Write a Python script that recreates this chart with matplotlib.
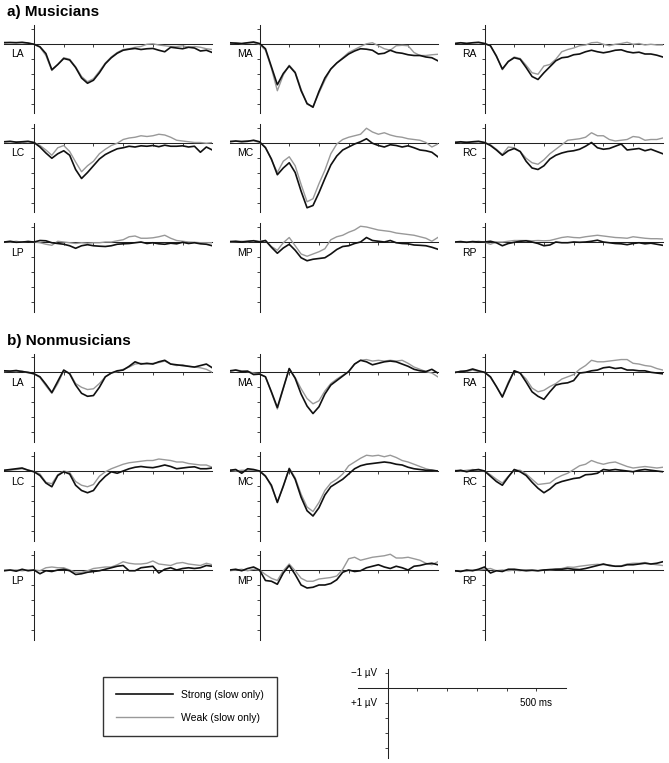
"""
plot.py
-------
ERP grand averages (strong vs weak, slow only) for musicians and
nonmusicians at nine scalp sites, negative plotted up.
"""

import matplotlib
matplotlib.use("Agg")
import matplotlib.pyplot as plt
from matplotlib.lines import Line2D

plt.rcParams["font.family"] = ["Liberation Sans", "DejaVu Sans"]

# ── Data (µV, sampled every 20 ms from -100 to 600 ms) ───────────────────────
TIMES_MS = list(range(-100, 601, 20))
SITES = ["LA", "MA", "RA", "LC", "MC", "RC", "LP", "MP", "RP"]

# a) Musicians
MUS_LA_STRONG = [-0.05, -0.07, -0.05, -0.08, -0.03, 0.05, 0.22, 0.67, 1.75, 1.40, 1.00, 1.10, 1.60, 2.30, 2.65, 2.45, 1.95, 1.35,
                 0.95, 0.65, 0.45, 0.38, 0.33, 0.40, 0.35, 0.33, 0.45, 0.55, 0.25, 0.30, 0.35, 0.25, 0.30, 0.50, 0.45, 0.60]
MUS_LA_WEAK = [-0.08, -0.05, -0.07, -0.05, -0.03, 0.05, 0.25, 0.80, 1.80, 1.40, 0.95, 1.05, 1.55, 2.20, 2.55, 2.35, 1.85, 1.30,
               0.90, 0.60, 0.40, 0.35, 0.25, 0.20, 0.05, 0.02, 0.10, 0.15, 0.20, 0.20, 0.15, 0.25, 0.20, 0.25, 0.35, 0.40]
MUS_MA_STRONG = [-0.05, -0.02, 0.00, -0.05, -0.10, 0.00, 0.35, 1.55, 2.75, 2.00, 1.50, 1.95, 3.15, 4.00, 4.25, 3.20, 2.30, 1.70,
                 1.30, 1.00, 0.70, 0.50, 0.35, 0.38, 0.45, 0.70, 0.65, 0.45, 0.60, 0.65, 0.75, 0.80, 0.80, 0.90, 0.95, 1.15]
MUS_MA_WEAK = [0.00, -0.05, 0.02, -0.03, -0.05, 0.05, 0.45, 1.65, 3.15, 2.10, 1.45, 1.90, 3.05, 4.05, 4.20, 3.30, 2.45, 1.70,
               1.30, 0.95, 0.60, 0.40, 0.20, 0.02, -0.05, 0.15, 0.35, 0.45, 0.15, 0.12, 0.15, 0.60, 0.80, 0.80, 0.75, 0.72]
MUS_RA_STRONG = [0.00, -0.05, 0.00, -0.05, -0.08, 0.00, 0.15, 0.85, 1.70, 1.20, 0.95, 1.05, 1.60, 2.20, 2.40, 1.95, 1.55, 1.15,
                 0.95, 0.90, 0.75, 0.70, 0.55, 0.45, 0.55, 0.62, 0.55, 0.45, 0.42, 0.55, 0.62, 0.58, 0.70, 0.70, 0.78, 0.90]
MUS_RA_WEAK = [0.00, -0.05, -0.02, -0.05, -0.05, 0.00, 0.15, 0.80, 1.75, 1.20, 0.90, 1.00, 1.45, 1.95, 2.05, 1.50, 1.40, 1.05,
               0.55, 0.40, 0.30, 0.15, 0.10, -0.05, -0.08, 0.05, 0.15, 0.05, 0.00, -0.08, 0.05, 0.00, 0.10, 0.05, 0.10, 0.10]
MUS_LC_STRONG = [-0.05, -0.08, -0.02, -0.05, -0.08, 0.00, 0.30, 0.70, 1.05, 0.75, 0.55, 0.85, 1.80, 2.40, 2.00, 1.55, 1.10, 0.80,
                 0.60, 0.42, 0.35, 0.25, 0.30, 0.22, 0.25, 0.20, 0.28, 0.18, 0.25, 0.25, 0.22, 0.30, 0.25, 0.65, 0.30, 0.50]
MUS_LC_WEAK = [-0.05, -0.05, -0.05, 0.00, -0.05, 0.00, 0.20, 0.50, 0.85, 0.35, 0.20, 0.60, 1.30, 1.95, 1.55, 1.25, 0.75, 0.45,
               0.20, 0.05, -0.20, -0.30, -0.35, -0.45, -0.40, -0.45, -0.55, -0.50, -0.35, -0.15, -0.10, -0.05, 0.00, 0.00, 0.05, 0.00]
MUS_MC_STRONG = [-0.05, -0.10, -0.05, -0.08, -0.15, -0.05, 0.35, 1.10, 2.15, 1.70, 1.35, 2.00, 3.25, 4.35, 4.20, 3.35, 2.40, 1.50,
                 0.90, 0.50, 0.30, 0.10, -0.05, -0.25, 0.05, 0.20, 0.30, 0.15, 0.20, 0.30, 0.22, 0.35, 0.50, 0.55, 0.65, 0.95]
MUS_MC_WEAK = [-0.10, -0.08, -0.10, -0.12, -0.12, 0.00, 0.30, 1.15, 2.00, 1.25, 0.95, 1.55, 2.80, 3.95, 3.75, 2.75, 1.85, 0.75,
               0.10, -0.20, -0.35, -0.45, -0.55, -0.95, -0.70, -0.55, -0.65, -0.50, -0.40, -0.35, -0.25, -0.20, -0.15, 0.00, 0.30, 0.10]
MUS_LP_STRONG = [0.00, -0.05, 0.02, 0.00, -0.03, 0.00, -0.10, -0.08, 0.05, 0.10, 0.15, 0.25, 0.42, 0.25, 0.18, 0.25, 0.28, 0.30,
                 0.25, 0.15, 0.12, 0.10, 0.05, 0.00, 0.10, 0.05, 0.12, 0.15, 0.08, 0.12, 0.02, 0.10, 0.05, 0.12, 0.15, 0.25]
MUS_LP_WEAK = [-0.02, 0.00, -0.05, 0.02, -0.05, 0.00, 0.05, 0.15, 0.22, -0.05, 0.00, 0.05, 0.10, 0.05, 0.08, 0.05, 0.05, 0.00,
               0.00, -0.08, -0.15, -0.35, -0.40, -0.25, -0.25, -0.28, -0.35, -0.45, -0.25, -0.10, -0.05, 0.00, 0.02, 0.05, 0.05, 0.05]
MUS_MP_STRONG = [-0.03, -0.05, 0.00, -0.05, -0.08, 0.00, -0.10, 0.35, 0.75, 0.40, 0.15, 0.55, 1.05, 1.25, 1.15, 1.10, 1.05, 0.80,
                 0.50, 0.30, 0.25, 0.10, 0.00, -0.30, -0.10, -0.05, 0.00, -0.10, 0.05, 0.10, 0.12, 0.20, 0.22, 0.25, 0.35, 0.48]
MUS_MP_WEAK = [0.00, -0.03, -0.05, -0.02, -0.10, -0.05, -0.10, 0.30, 0.55, 0.05, -0.30, 0.25, 0.80, 0.95, 0.80, 0.65, 0.45, -0.15,
               -0.35, -0.45, -0.65, -0.80, -1.05, -1.00, -0.90, -0.80, -0.75, -0.70, -0.60, -0.55, -0.50, -0.45, -0.35, -0.25, -0.05, -0.30]
MUS_RC_STRONG = [0.00, -0.05, 0.00, -0.05, -0.08, 0.00, 0.20, 0.50, 0.85, 0.55, 0.40, 0.60, 1.25, 1.70, 1.80, 1.55, 1.10, 0.85,
                 0.70, 0.60, 0.55, 0.45, 0.25, 0.00, 0.35, 0.45, 0.40, 0.25, 0.10, 0.50, 0.45, 0.40, 0.55, 0.45, 0.60, 0.75]
MUS_RC_WEAK = [-0.05, 0.00, -0.05, -0.02, -0.05, 0.00, 0.15, 0.45, 0.80, 0.30, 0.35, 0.60, 1.05, 1.35, 1.45, 1.15, 0.75, 0.45,
               0.15, -0.15, -0.20, -0.25, -0.35, -0.65, -0.45, -0.45, -0.20, -0.10, -0.15, -0.20, -0.40, -0.35, -0.15, -0.20, -0.20, -0.30]
MUS_RP_STRONG = [0.00, -0.03, 0.02, -0.03, 0.00, 0.00, -0.05, 0.05, 0.25, 0.10, 0.02, -0.05, -0.08, 0.00, 0.10, 0.25, 0.20, 0.00,
                 0.05, 0.05, 0.00, 0.02, 0.00, -0.05, -0.12, 0.00, 0.05, 0.10, 0.12, 0.18, 0.10, 0.05, 0.12, 0.08, 0.15, 0.22]
MUS_RP_WEAK = [0.02, -0.02, 0.00, 0.00, -0.05, 0.02, 0.15, 0.00, 0.00, -0.05, -0.10, -0.10, -0.10, -0.08, -0.10, -0.08, -0.10, -0.20,
               -0.30, -0.35, -0.30, -0.28, -0.35, -0.40, -0.45, -0.40, -0.35, -0.30, -0.28, -0.25, -0.35, -0.30, -0.25, -0.22, -0.22, -0.20]

# b) Nonmusicians
NON_LA_STRONG = [-0.10, -0.08, -0.12, -0.05, 0.00, 0.10, 0.30, 0.80, 1.35, 0.60, -0.15, 0.10, 0.85, 1.40, 1.60, 1.55, 1.00, 0.30,
                 0.05, -0.10, -0.15, -0.40, -0.70, -0.55, -0.60, -0.55, -0.70, -0.80, -0.55, -0.50, -0.45, -0.40, -0.35, -0.45, -0.55, -0.30]
NON_LA_WEAK = [-0.05, -0.08, -0.05, -0.08, 0.05, 0.10, 0.35, 0.90, 1.40, 0.75, -0.10, 0.05, 0.75, 1.00, 1.15, 1.10, 0.75, 0.30,
               0.05, -0.05, -0.20, -0.35, -0.55, -0.60, -0.55, -0.60, -0.65, -0.75, -0.55, -0.45, -0.50, -0.40, -0.35, -0.30, -0.20, 0.00]
NON_MA_STRONG = [-0.10, -0.15, -0.05, -0.08, 0.15, 0.12, 0.30, 1.30, 2.35, 1.05, -0.25, 0.40, 1.45, 2.25, 2.75, 2.30, 1.45, 0.85,
                 0.55, 0.25, -0.05, -0.55, -0.80, -0.70, -0.50, -0.60, -0.70, -0.75, -0.70, -0.55, -0.40, -0.20, -0.10, -0.05, -0.20, 0.05]
NON_MA_WEAK = [-0.05, -0.15, -0.10, -0.05, 0.05, 0.10, 0.30, 1.35, 2.45, 1.10, -0.25, 0.35, 1.10, 1.75, 2.10, 1.90, 1.25, 0.75,
               0.45, 0.20, -0.05, -0.55, -0.80, -0.85, -0.75, -0.80, -0.75, -0.80, -0.75, -0.80, -0.60, -0.35, -0.20, -0.05, 0.05, 0.30]
NON_RA_STRONG = [0.00, -0.05, -0.10, -0.22, -0.10, 0.00, 0.30, 0.95, 1.65, 0.75, -0.10, 0.05, 0.65, 1.30, 1.60, 1.80, 1.30, 0.85,
                 0.75, 0.70, 0.55, 0.05, 0.00, -0.10, -0.15, -0.30, -0.35, -0.25, -0.30, -0.15, -0.15, -0.10, -0.10, 0.00, 0.05, 0.10]
NON_RA_WEAK = [0.05, -0.10, -0.05, -0.15, -0.05, 0.00, 0.35, 0.95, 1.60, 0.65, -0.10, 0.05, 0.45, 1.05, 1.30, 1.20, 0.95, 0.75,
               0.45, 0.30, 0.15, -0.20, -0.45, -0.80, -0.70, -0.70, -0.75, -0.80, -0.85, -0.85, -0.60, -0.55, -0.45, -0.40, -0.25, -0.15]
NON_LC_STRONG = [-0.05, -0.10, -0.15, -0.20, -0.05, 0.05, 0.30, 0.80, 1.05, 0.30, 0.05, 0.20, 0.95, 1.30, 1.45, 1.30, 0.75, 0.35,
                 0.05, 0.15, 0.00, -0.15, -0.25, -0.30, -0.25, -0.22, -0.30, -0.40, -0.30, -0.15, -0.20, -0.25, -0.28, -0.15, -0.15, -0.20]
NON_LC_WEAK = [-0.05, -0.05, -0.10, -0.15, -0.08, 0.05, 0.20, 0.75, 0.85, 0.25, 0.00, 0.10, 0.70, 0.95, 1.05, 0.90, 0.35, 0.05,
               -0.15, -0.30, -0.45, -0.55, -0.60, -0.65, -0.70, -0.70, -0.80, -0.75, -0.70, -0.60, -0.60, -0.50, -0.45, -0.40, -0.40, -0.25]
NON_MC_STRONG = [-0.05, -0.10, 0.15, -0.15, -0.10, 0.00, 0.35, 0.95, 2.10, 1.00, -0.15, 0.55, 1.75, 2.65, 3.00, 2.45, 1.60, 1.05,
                 0.80, 0.55, 0.20, -0.15, -0.35, -0.45, -0.50, -0.55, -0.60, -0.55, -0.45, -0.40, -0.25, -0.15, -0.10, -0.05, -0.05, 0.00]
NON_MC_WEAK = [-0.05, 0.00, -0.05, -0.05, -0.05, 0.00, 0.30, 1.05, 2.05, 1.05, -0.20, 0.45, 1.55, 2.40, 2.70, 2.10, 1.30, 0.80,
               0.55, 0.20, -0.35, -0.60, -0.85, -1.05, -1.00, -1.05, -0.95, -1.05, -0.90, -0.70, -0.60, -0.45, -0.30, -0.15, -0.05, 0.00]
NON_RC_STRONG = [0.00, -0.05, 0.05, -0.05, -0.10, 0.00, 0.35, 0.70, 0.95, 0.40, -0.10, 0.05, 0.30, 0.75, 1.15, 1.45, 1.20, 0.85,
                 0.70, 0.60, 0.50, 0.45, 0.25, 0.22, 0.15, -0.10, -0.05, -0.10, -0.05, 0.00, 0.05, -0.05, -0.10, -0.05, 0.00, 0.05]
NON_RC_WEAK = [-0.05, 0.00, -0.05, -0.10, -0.05, 0.00, 0.25, 0.55, 0.80, 0.35, -0.05, -0.05, 0.20, 0.55, 0.90, 0.85, 0.80, 0.50,
               0.30, 0.15, -0.10, -0.35, -0.45, -0.70, -0.55, -0.45, -0.55, -0.60, -0.45, -0.30, -0.20, -0.25, -0.30, -0.25, -0.20, -0.25]
NON_LP_STRONG = [0.05, 0.00, 0.08, -0.05, 0.05, 0.00, 0.25, 0.05, 0.10, 0.00, -0.05, 0.05, 0.30, 0.25, 0.15, 0.10, 0.05, -0.05,
                 -0.15, -0.25, -0.30, 0.05, 0.05, -0.15, -0.20, -0.25, 0.20, -0.05, -0.15, 0.00, -0.10, -0.15, -0.10, -0.15, -0.30, -0.25]
NON_LP_WEAK = [0.00, 0.02, 0.00, 0.05, 0.00, 0.00, 0.05, -0.15, -0.20, -0.15, -0.15, 0.00, 0.15, 0.15, 0.05, -0.10, -0.15, -0.20,
               -0.20, -0.35, -0.55, -0.45, -0.40, -0.40, -0.45, -0.60, -0.40, -0.35, -0.30, -0.45, -0.50, -0.40, -0.35, -0.30, -0.45, -0.35]
NON_MP_STRONG = [0.00, -0.05, 0.05, -0.10, -0.20, 0.00, 0.70, 0.75, 0.95, 0.20, -0.30, 0.30, 1.00, 1.20, 1.15, 1.00, 1.00, 0.90,
                 0.65, 0.15, 0.00, 0.10, 0.05, -0.15, -0.25, -0.35, -0.20, -0.10, -0.25, -0.15, 0.00, -0.25, -0.30, -0.40, -0.45, -0.35]
NON_MP_WEAK = [0.05, 0.00, -0.05, 0.05, -0.05, 0.00, 0.30, 0.55, 0.70, 0.05, -0.40, 0.05, 0.55, 0.75, 0.75, 0.60, 0.55, 0.50,
               0.40, -0.05, -0.75, -0.85, -0.65, -0.75, -0.85, -0.90, -0.95, -1.05, -0.80, -0.80, -0.85, -0.75, -0.65, -0.45, -0.35, -0.55]
NON_RP_STRONG = [0.05, 0.10, 0.00, 0.05, -0.05, -0.20, 0.20, 0.05, 0.10, -0.05, -0.05, 0.00, 0.05, 0.02, 0.05, 0.00, -0.03, -0.05,
                 -0.05, -0.10, -0.05, -0.03, -0.10, -0.20, -0.30, -0.40, -0.30, -0.25, -0.25, -0.35, -0.35, -0.40, -0.45, -0.40, -0.45, -0.55]
NON_RP_WEAK = [0.10, 0.05, 0.08, 0.00, 0.00, -0.05, -0.10, 0.05, 0.00, 0.05, 0.00, 0.05, -0.02, 0.00, 0.05, -0.02, 0.00, -0.05,
               -0.10, -0.20, -0.18, -0.25, -0.30, -0.35, -0.38, -0.35, -0.35, -0.25, -0.28, -0.40, -0.45, -0.45, -0.50, -0.40, -0.35, -0.30]

MUSICIANS = {
    "LA": (MUS_LA_STRONG, MUS_LA_WEAK), "MA": (MUS_MA_STRONG, MUS_MA_WEAK), "RA": (MUS_RA_STRONG, MUS_RA_WEAK),
    "LC": (MUS_LC_STRONG, MUS_LC_WEAK), "MC": (MUS_MC_STRONG, MUS_MC_WEAK), "RC": (MUS_RC_STRONG, MUS_RC_WEAK),
    "LP": (MUS_LP_STRONG, MUS_LP_WEAK), "MP": (MUS_MP_STRONG, MUS_MP_WEAK), "RP": (MUS_RP_STRONG, MUS_RP_WEAK),
}
NONMUSICIANS = {
    "LA": (NON_LA_STRONG, NON_LA_WEAK), "MA": (NON_MA_STRONG, NON_MA_WEAK), "RA": (NON_RA_STRONG, NON_RA_WEAK),
    "LC": (NON_LC_STRONG, NON_LC_WEAK), "MC": (NON_MC_STRONG, NON_MC_WEAK), "RC": (NON_RC_STRONG, NON_RC_WEAK),
    "LP": (NON_LP_STRONG, NON_LP_WEAK), "MP": (NON_MP_STRONG, NON_MP_WEAK), "RP": (NON_RP_STRONG, NON_RP_WEAK),
}

# ── Layout (pixels) ───────────────────────────────────────────────────────────
FIG_W, FIG_H = 669, 763
DPI = 100
PANEL_W = 208                       # -100 .. 600 ms
PX_PER_UV = 15
Y_NEG, Y_POS = -1.25, 4.65          # µV range of each vertical axis
COL_LEFT = [4.3, 229.8, 454.8]      # x pixel of -100 ms per column
ROWS_A = [43.5, 142.5, 242.0]       # y pixel of 0 µV, musicians
ROWS_B = [372.3, 471.0, 570.0]      # y pixel of 0 µV, nonmusicians
SCALE_LEFT, SCALE_ZERO = 358.0, 688.0

C_STRONG = "#111111"
C_WEAK = "#999999"
C_AXIS = "#222222"
LW_STRONG = 1.2
LW_WEAK = 1.0


def add_trace_axes(fig, left_px, zero_px):
    bottom_px = zero_px + Y_POS * PX_PER_UV
    height_px = (Y_POS - Y_NEG) * PX_PER_UV
    ax = fig.add_axes([left_px / FIG_W, 1 - bottom_px / FIG_H,
                       PANEL_W / FIG_W, height_px / FIG_H])
    ax.set_xlim(-100, 600)
    ax.set_ylim(Y_POS, Y_NEG)      # negative up
    ax.patch.set_visible(False)
    ax.spines["top"].set_visible(False)
    ax.spines["right"].set_visible(False)
    ax.spines["left"].set_position(("data", 0))
    ax.spines["bottom"].set_position(("data", 0))
    for s in ("left", "bottom"):
        ax.spines[s].set_linewidth(0.75)
        ax.spines[s].set_color(C_AXIS)
    ax.set_xticks([100, 200, 300, 400, 500])
    ax.set_yticks([-1, 1, 2, 3, 4])
    ax.tick_params(direction="out", length=2.5, width=0.6, color=C_AXIS,
                   labelbottom=False, labelleft=False)
    return ax


def draw_group(fig, data, rows):
    for i, site in enumerate(SITES):
        r, c = divmod(i, 3)
        ax = add_trace_axes(fig, COL_LEFT[c], rows[r])
        strong, weak = data[site]
        ax.plot(TIMES_MS, weak, color=C_WEAK, lw=LW_WEAK, zorder=3)
        ax.plot(TIMES_MS, strong, color=C_STRONG, lw=LW_STRONG, zorder=4)
        ax.text(-77, 0.72, site, fontsize=7.5, ha="left", va="center")


def main():
    fig = plt.figure(figsize=(FIG_W / DPI, FIG_H / DPI), dpi=DPI)

    fig.text(7 / FIG_W, 1 - 16 / FIG_H, "a) Musicians", fontsize=11,
             fontweight="bold", va="baseline")
    fig.text(7 / FIG_W, 1 - 345 / FIG_H, "b) Nonmusicians", fontsize=11,
             fontweight="bold", va="baseline")

    draw_group(fig, MUSICIANS, ROWS_A)
    draw_group(fig, NONMUSICIANS, ROWS_B)

    # ── Scale bar ─────────────────────────────────────────────────────────────
    sax = add_trace_axes(fig, SCALE_LEFT, SCALE_ZERO)
    sax.text(-35, -1, "\u22121 \u00b5V", fontsize=7, ha="right", va="center")
    sax.text(-35, 1, "+1 \u00b5V", fontsize=7, ha="right", va="center")
    sax.text(500, 1, "500 ms", fontsize=7, ha="center", va="center")

    # ── Legend ────────────────────────────────────────────────────────────────
    handles = [Line2D([], [], color=C_STRONG, lw=LW_STRONG),
               Line2D([], [], color=C_WEAK, lw=LW_WEAK)]
    leg = fig.legend(handles, ["Strong (slow only)", "Weak (slow only)"],
                     loc="upper left", bbox_to_anchor=(103 / FIG_W, 1 - 677 / FIG_H),
                     fontsize=7.5, frameon=True, fancybox=False, edgecolor="black",
                     handlelength=5.5, handletextpad=0.8, borderpad=1.2,
                     labelspacing=1.3, borderaxespad=0)
    leg.get_frame().set_linewidth(1.0)

    fig.savefig("out.png", dpi=DPI)
    plt.close(fig)


if __name__ == "__main__":
    main()
